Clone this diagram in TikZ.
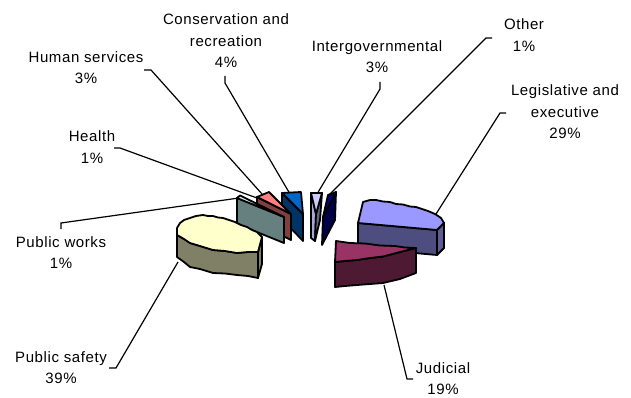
\documentclass[tikz,border=0pt]{standalone}
\usepackage{fontspec}
\setmainfont{Liberation Sans}[LetterSpace=4]
% slice colours: top faces and darker side faces
\definecolor{legtop}{HTML}{9999FF}\definecolor{legside}{HTML}{4D4D80}\definecolor{legrim}{HTML}{5C5C99}
\definecolor{judtop}{HTML}{993366}\definecolor{judside}{HTML}{4D1933}
\definecolor{pstop}{HTML}{FFFFCC}\definecolor{psside}{HTML}{808066}
\definecolor{pwtop}{HTML}{CCFFFF}\definecolor{pwside}{HTML}{668080}
\definecolor{hstop}{HTML}{FF8080}\definecolor{hsside}{HTML}{804040}
\definecolor{crtop}{HTML}{0066CC}\definecolor{crside}{HTML}{003366}
\definecolor{igtop}{HTML}{CCCCFF}\definecolor{igside}{HTML}{666680}\definecolor{igleft}{HTML}{A8A8D6}
\definecolor{ottop}{HTML}{000080}\definecolor{otside}{HTML}{000048}
\begin{document}
\begin{tikzpicture}[x=1pt,y=-1pt,
  face/.style={draw=black, line width=1.8pt, line join=round},
  leader/.style={draw=black, line width=1.2pt, line join=miter},
  lbl/.style={font=\fontsize{15}{21.5}\selectfont, align=center, inner sep=0pt, text=black}]
\useasboundingbox (0,0) rectangle (631,398);

% ---------- labels ----------
\node[lbl] (cr) at (226,41)  {Conservation and\\recreation\\4\%};
\node[lbl] (hs) at (86,67.5) {Human services\\3\%};
\node[lbl] (ig) at (377,56.5) {Intergovernmental\\3\%};
\node[lbl] (ot) at (524,35)  {Other\\1\%};
\node[lbl] (lg) at (565,112) {Legislative and\\executive\\29\%};
\node[lbl] (hl) at (92,147)  {Health\\1\%};
\node[lbl] (pw) at (61,252.5) {Public works\\1\%};
\node[lbl] (ps) at (61,367.5) {Public safety\\39\%};
\node[lbl] (jd) at (443,378.5) {Judicial\\19\%};

% ---------- leader lines ----------
\coordinate (hs-a) at (144,70);  \coordinate (hs-b) at (151,70);  \coordinate (hs-end) at (262,194);
\coordinate (cr-a) at (225,76);  \coordinate (cr-b) at (225,83);  \coordinate (cr-end) at (290,194);
\coordinate (ig-a) at (380,82);  \coordinate (ig-b) at (380,89);  \coordinate (ig-end) at (317,194);
\coordinate (ot-a) at (492,38);  \coordinate (ot-b) at (486,38);  \coordinate (ot-end) at (328,196);
\coordinate (lg-a) at (506,113); \coordinate (lg-b) at (500,113); \coordinate (lg-end) at (436,214);
\coordinate (hl-a) at (114,148); \coordinate (hl-b) at (120,148); \coordinate (hl-end) at (257,198);
\coordinate (pw-a) at (61,229);  \coordinate (pw-b) at (61,223);  \coordinate (pw-end) at (239,198);
\coordinate (ps-a) at (109,368); \coordinate (ps-b) at (116,368); \coordinate (ps-end) at (178,262);
\coordinate (jd-a) at (413,379); \coordinate (jd-b) at (407,379); \coordinate (jd-end) at (384,285);
\foreach \k in {hs,cr,ig,ot,lg,hl,pw,ps,jd}
  \draw[leader] (\k-a) -- (\k-b) -- (\k-end);

% ---------- Other ----------
\path[face, fill=otside] (336,192) -- (323,217) -- (322,245) -- (335,220) -- cycle;
\path[face, fill=ottop]  (328,195) -- (336,192) -- (323,217) -- cycle;

% ---------- Intergovernmental ----------
\path[face, fill=igleft] (311,193) -- (316,214) -- (315,241) -- (311,238) -- cycle;
\path[face, fill=igside] (322,193) -- (316,214) -- (315,241) -- (320,220) -- cycle;
\path[face, fill=igtop]  (311,193) -- (322,193) -- (316,214) -- cycle;

% ---------- Conservation and recreation ----------
\path[face, fill=crside] (282,193) -- (303,214) -- (303,241) -- (282,219) -- cycle;
\path[face, fill=crtop]  (282,193) -- (301,192) -- (303,214) -- cycle;

% ---------- Human services ----------
\path[face, fill=hsside] (257,197) -- (291,214) -- (291,240) -- (257,223) -- cycle;
\path[face, fill=hstop]  (257,197) -- (269,192) -- (291,214) -- cycle;

% ---------- Public works ----------
\path[face, fill=pwside] (237,198) -- (284,217) -- (284,243) -- (237,224) -- cycle;
\path[face, fill=pwtop]  (237,198) -- (240,195.5) -- (284,217) -- cycle;

% ---------- Public safety ----------
\path[face, fill=psside] (262,237) -- (258,252) -- (258,278) -- (262,264) -- cycle;
\path[face, fill=psside] (177,235) -- (184,239) -- (190,243) -- (200,246) -- (213,250) -- (225,251)
  -- (237,253) -- (248,252) -- (258,252) -- (258,278) -- (248,276) -- (237,275) -- (225,273.5)
  -- (213,273) -- (200,269) -- (190,267) -- (184,262) -- (177,257) -- cycle;
\path[face, fill=pstop] (262,237) -- (257,232) -- (252,230) -- (247,227) -- (241,225) -- (235,222)
  -- (229,220) -- (223,218) -- (218,217.5) -- (213,216) -- (208,216) -- (203,215) -- (196,216)
  -- (190,218) -- (184,220) -- (180,223) -- (177,228) -- (177,235) -- (184,239) -- (190,243)
  -- (200,246) -- (213,250) -- (225,251) -- (237,253) -- (248,252) -- (258,252) -- cycle;

% ---------- Legislative and executive ----------
\path[face, fill=legside] (358,223) -- (437,230) -- (437,255) -- (358,248) -- cycle;
\path[face, fill=legrim]  (437,230) -- (444,223) -- (444,248) -- (437,255) -- cycle;
\path[face, fill=legtop] (358,223) -- (363,202) -- (370,200) -- (376,200) -- (383,201.5) -- (390,202)
  -- (396,204) -- (403,204.5) -- (410,206.5) -- (416,207) -- (422,209) -- (428,211) -- (435,214)
  -- (441,218) -- (444,223) -- (437,230) -- cycle;

% ---------- Judicial ----------
\path[face, fill=judside] (335,262) -- (345,261) -- (357,260) -- (370,258) -- (383,256.5)
  -- (400,252) -- (416,248) -- (416,273) -- (400,279) -- (383,283) -- (370,284) -- (357,285)
  -- (345,286) -- (335,287) -- cycle;
\path[face, fill=judtop] (336,241) -- (350,243) -- (365,243.5) -- (380,245.5) -- (395,246)
  -- (405,247.5) -- (416,248) -- (400,252) -- (383,256.5) -- (370,258) -- (357,260)
  -- (345,261) -- (335,262) -- cycle;
\end{tikzpicture}
\end{document}
